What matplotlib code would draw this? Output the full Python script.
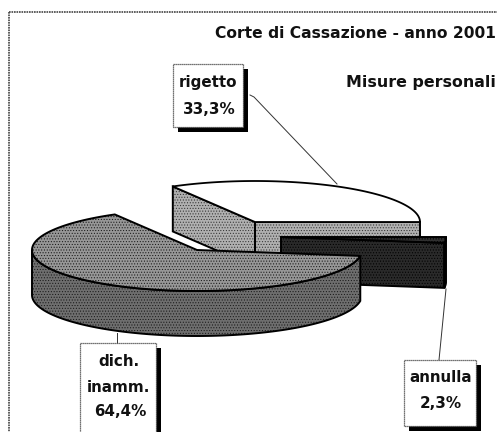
import numpy as np
import matplotlib
matplotlib.use("Agg")
import matplotlib.pyplot as plt
from matplotlib.patches import Polygon, Rectangle

plt.rcParams['font.family'] = ['DejaVu Sans']
plt.rcParams['hatch.linewidth'] = 0.45

categories = ["rigetto", "annulla", "dich.\ninamm."]
shares = [33.3, 2.3, 64.4]
value_labels = ["33,3%", "2,3%", "64,4%"]
title = "Corte di Cassazione - anno 2001"
subtitle = "Misure personali"

W, H = 497, 432
RX, RY, DEPTH = 165, 41, 45
centres = {"rigetto": (255, 222), "annulla": (281, 237), "dich.\ninamm.": (197, 250)}
top_cols = {"rigetto": "#ffffff", "annulla": "#303030", "dich.\ninamm.": "#979797"}
side_cols = {"rigetto": "#b0b0b0", "annulla": "#2a2a2a", "dich.\ninamm.": "#6e6e6e"}
hatch_cols = {"rigetto": "#333333", "annulla": "#000000", "dich.\ninamm.": "#1a1a1a"}

fig = plt.figure(figsize=(W / 100, H / 100), dpi=100, facecolor="white")
ax = fig.add_axes([0, 0, 1, 1])
ax.set_xlim(0, W)
ax.set_ylim(H, 0)
ax.axis("off")


def arc(c, a0, a1, dy=0):
    t = np.radians(np.linspace(a0, a1, 120))
    return np.column_stack([c[0] + RX * np.cos(t), c[1] + dy - RY * np.sin(t)])


def face(pts, fc, hc, z, hatch="......"):
    ax.add_patch(Polygon(pts, closed=True, fc=fc, ec=hc, lw=0, hatch=hatch, zorder=z))
    ax.add_patch(Polygon(pts, closed=True, fc="none", ec="black", lw=1.4, zorder=z + 0.1))


def slice3d(name, a0, a1, z):
    c = centres[name]
    fc, sc, hc = top_cols[name], side_cols[name], hatch_cols[name]
    if name == "rigetto":
        p = arc(c, a1, a1)[0]
        face([c, p, (p[0], p[1] + DEPTH), (c[0], c[1] + DEPTH)], sc, hc, z)
        q = arc(c, a0, a0)[0]
        face([c, q, (q[0], q[1] + DEPTH), (c[0], c[1] + DEPTH)], sc, hc, z)
    if name == "annulla":
        q = arc(c, a0, a0)[0]
        face([c, q, (q[0], q[1] + DEPTH), (c[0], c[1] + DEPTH)], sc, hc, z)
    lo, hi = max(a0, 180), min(a1, 360)
    if hi > lo:
        top = arc(c, lo, hi)
        face(np.vstack([top, arc(c, hi, lo, DEPTH)]), sc, hc, z + 0.2)
    pts = np.vstack([[c], arc(c, a0, a1)])
    if name == "rigetto":
        ax.add_patch(Polygon(pts, closed=True, fc=fc, ec="black", lw=1.3, zorder=z + 0.4))
    else:
        face(pts, fc, hc, z + 0.4)


# Angles follow the shares; the pie starts at 3 o'clock and runs counter-clockwise
spans = np.array(shares) / sum(shares) * 360
slice3d("rigetto", 0, spans[0], 2)
slice3d("dich.\ninamm.", spans[0], spans[0] + spans[2], 6)
slice3d("annulla", 360 - spans[1], 360, 4)

# Chart frame: only top and left are inside the crop
ax.plot([9, 9], [12, H], color="#444444", lw=1.2, ls=(0, (1, 0.5)), zorder=1)
ax.plot([9, W], [12, 12], color="#444444", lw=1.2, ls=(0, (1, 0.5)), zorder=1)

# Leader lines
ax.plot([250, 254, 337], [95, 97, 184], color="#333333", lw=0.7, zorder=1.5)
ax.plot([117, 117], [333, 343], color="#333333", lw=0.7, zorder=1.5)
ax.plot([446, 439], [289, 360], color="#333333", lw=0.7, zorder=1.5)


def box(x0, y0, x1, y1):
    ax.add_patch(Rectangle((x0 + 5, y0 + 5), x1 - x0, y1 - y0, fc="black", ec="none", zorder=9))
    ax.add_patch(Rectangle((x0, y0), x1 - x0, y1 - y0, fc="white", ec="#444444",
                           lw=0.9, ls=(0, (1, 0.6)), zorder=10))


box(173, 64, 243, 127)
box(80, 343, 156, 440)
box(404, 360, 476, 426)

tk = dict(fontsize=10.9, fontweight="bold", color="#111111", zorder=11,
          ha="center", va="center")
ax.text(208, 83, categories[0], **tk)
ax.text(209, 109, value_labels[0], **tk)
ax.text(119, 362, "dich.", **tk)
ax.text(118, 388, "inamm.", **tk)
ax.text(120, 411, value_labels[2], **tk)
ax.text(441, 378, categories[1], **tk)
ax.text(441, 404, value_labels[1], **tk)

ax.text(496, 34, title, fontsize=11.2, fontweight="bold", color="#111111", ha="right", va="center", zorder=11)
ax.text(496, 83, subtitle, fontsize=11.4, fontweight="bold", color="#111111", ha="right", va="center", zorder=11)

fig.savefig("out.png", dpi=100, facecolor="white")
